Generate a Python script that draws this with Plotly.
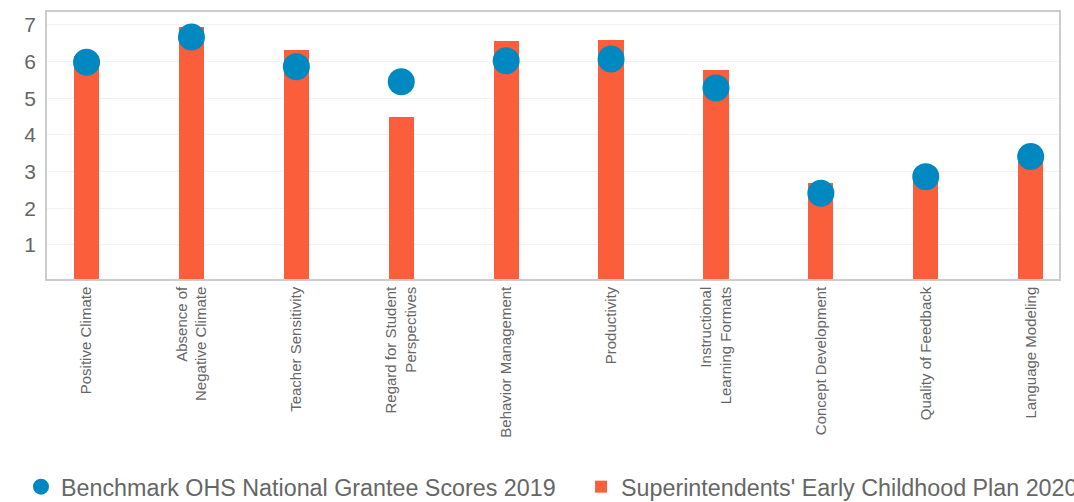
import plotly.graph_objects as go

categories = [
    "Positive Climate",
    "Absence of<br>Negative Climate",
    "Teacher Sensitivity",
    "Regard for Student<br>Perspectives",
    "Behavior Management",
    "Productivity",
    "Instructional<br>Learning Formats",
    "Concept Development",
    "Quality of Feedback",
    "Language Modeling",
]
benchmark_2019 = [5.98, 6.67, 5.86, 5.45, 6.02, 6.07, 5.28, 2.41, 2.86, 3.41]
plan_2020 = [6.15, 6.95, 6.32, 4.49, 6.56, 6.59, 5.77, 2.70, 2.90, 3.40]

font_family = "Liberation Sans, Arial, Helvetica, sans-serif"
bar_color = "#FB5E3B"
dot_color = "#0089C0"

fig = go.Figure()

fig.add_trace(
    go.Bar(
        x=categories,
        y=plan_2020,
        name="Superintendents' Early Childhood Plan 2020",
        marker=dict(color=bar_color, line=dict(width=0)),
        width=0.24,
        legend="legend2",
        showlegend=True,
    )
)
fig.add_trace(
    go.Scatter(
        x=categories,
        y=benchmark_2019,
        mode="markers",
        name="Benchmark OHS National Grantee Scores 2019",
        marker=dict(color=dot_color, size=27),
        legend="legend",
        showlegend=True,
    )
)

legend_font = dict(family=font_family, size=23.3, color="#666666")

fig.update_layout(
    width=1074,
    height=502,
    margin=dict(l=47, r=15, t=12, b=223, autoexpand=False),
    paper_bgcolor="white",
    plot_bgcolor="white",
    showlegend=True,
    font=dict(family=font_family, color="#666666"),
    bargap=0,
    xaxis=dict(
        range=[-0.377, 9.27],
        tickangle=-90,
        tickfont=dict(size=15, color="#666666"),
        showgrid=False,
        showline=True,
        mirror=True,
        linecolor="#CCCCCC",
        linewidth=1.5,
        ticks="",
        ticklabelstandoff=0,
        automargin=False,
        fixedrange=True,
    ),
    yaxis=dict(
        range=[0.07, 7.35],
        tickvals=[1, 2, 3, 4, 5, 6, 7],
        tickfont=dict(size=21, color="#666666"),
        gridcolor="#F2F2F2",
        gridwidth=1,
        showline=True,
        mirror=True,
        linecolor="#CCCCCC",
        linewidth=1.5,
        zeroline=False,
        ticks="",
        ticklabelstandoff=5,
        automargin=False,
        fixedrange=True,
    ),
    legend=dict(
        orientation="h",
        x=-0.0257,
        xanchor="left",
        y=-0.779,
        yanchor="middle",
        font=legend_font,
        bgcolor="rgba(0,0,0,0)",
    ),
    legend2=dict(
        orientation="h",
        x=0.5277,
        xanchor="left",
        y=-0.779,
        yanchor="middle",
        font=legend_font,
        bgcolor="rgba(0,0,0,0)",
    ),
)

fig.write_html(
    "out.html",
    config={"displayModeBar": False},
    post_script="document.body.style.margin='0'; document.body.style.overflow='hidden';",
)
